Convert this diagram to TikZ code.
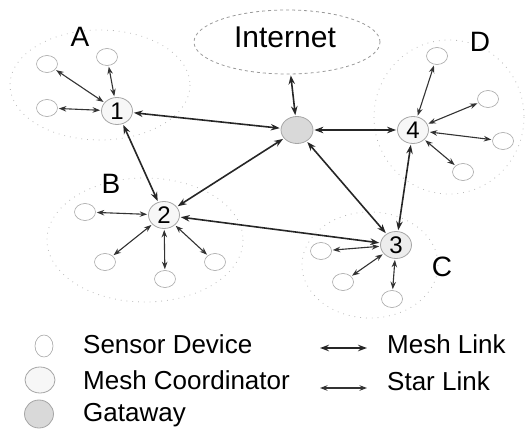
\documentclass[tikz,border=0pt]{standalone}
\usepackage{fontspec}
\setmainfont{Liberation Sans}
\usetikzlibrary{shapes.geometric,arrows.meta}

\tikzset{
  sensor/.style={ellipse, draw=gray!70, line width=0.6pt, fill=white,
    minimum width=21pt, minimum height=17pt, inner sep=0pt},
  coord/.style={ellipse, draw=gray!70, line width=0.8pt, fill=gray!6,
    minimum width=31pt, minimum height=27pt, inner sep=0pt,
    font=\fontsize{24}{24}\selectfont},
  gw/.style={ellipse, draw=gray!70, line width=0.8pt, fill=gray!30,
    minimum width=32pt, minimum height=27pt, inner sep=0pt},
  cloud/.style={ellipse, draw=gray!80, dashed, line width=0.8pt,
    minimum width=186pt, minimum height=64pt, inner sep=0pt},
  region/.style={draw=gray!55, line width=0.8pt, dash pattern=on 0.8pt off 5pt},
  meshlink/.style={{Stealth[length=9pt,width=6.5pt]}-{Stealth[length=9pt,width=6.5pt]},
    line width=1.6pt, draw=black!85, shorten <=1pt, shorten >=1pt},
  starlink/.style={{Stealth[length=7.5pt,width=5.5pt]}-{Stealth[length=7.5pt,width=5.5pt]},
    line width=1.1pt, draw=black!80, shorten <=1pt, shorten >=1pt},
  clabel/.style={anchor=base, inner sep=0pt, font=\fontsize{28}{28}\selectfont},
  legtext/.style={anchor=base west, inner sep=0pt, font=\fontsize{26}{26}\selectfont},
}

\begin{document}
\begin{tikzpicture}[x=1pt, y=-1pt]
\useasboundingbox (0,0) rectangle (530,446);

% cluster regions
\draw[region] (100,85) ellipse [x radius=90, y radius=55];
\draw[region] (145,240) ellipse [x radius=98, y radius=62];
\draw[region] (370,265) ellipse [x radius=68, y radius=53];
\draw[region] (449,117) ellipse [x radius=75, y radius=77];

% internet cloud
\node[cloud] (inet) at (287,42) {};
\node[anchor=base, inner sep=0pt, font=\fontsize{30}{30}\selectfont] (inettxt) at (285,48) {Internet};

% gateway and mesh coordinators
\node[gw] (gw) at (297,130) {};
\node[coord] (c1) at (117,111) {1};
\node[coord] (c2) at (164,215) {2};
\node[coord, fill=gray!14] (c3) at (396,245) {3};
\node[coord] (c4) at (413,130) {4};

% sensor devices
\node[sensor] (a1) at (47,64) {};
\node[sensor] (a2) at (107,57) {};
\node[sensor] (a3) at (47,108) {};
\node[sensor] (b1) at (85,212) {};
\node[sensor] (b2) at (105,262) {};
\node[sensor] (b3) at (165,279) {};
\node[sensor] (b4) at (215,262) {};
\node[sensor] (s1) at (321,251) {};
\node[sensor] (s2) at (343,282) {};
\node[sensor] (s3) at (392,299) {};
\node[sensor] (d1) at (437,56) {};
\node[sensor] (d2) at (488,99) {};
\node[sensor] (d3) at (503,141) {};
\node[sensor] (d4) at (463,172) {};

% cluster labels
\node[clabel] (la) at (80,47) {A};
\node[clabel] (lb) at (111,194) {B};
\node[clabel] (lc) at (442,277) {C};
\node[clabel] (ld) at (480,52) {D};

% mesh links
\draw[meshlink] (inet) -- (gw);
\draw[meshlink] (c1) -- (gw);
\draw[meshlink] (c1) -- (c2);
\draw[meshlink] (gw) -- (c2);
\draw[meshlink] (gw) -- (c4);
\draw[meshlink] (gw) -- (c3);
\draw[meshlink] (c2) -- (c3);
\draw[meshlink] (c4) -- (c3);

% star links
\foreach \s in {a1,a2,a3} \draw[starlink] (\s) -- (c1);
\foreach \s in {b1,b2,b3,b4} \draw[starlink] (\s) -- (c2);
\foreach \s in {s1,s2,s3} \draw[starlink] (\s) -- (c3);
\foreach \s in {d1,d2,d3,d4} \draw[starlink] (\s) -- (c4);

% legend
\node[sensor, minimum width=18pt, minimum height=22pt] (lsensor) at (44,346) {};
\node[coord, minimum width=30pt, minimum height=26pt] (lcoord) at (40,380) {};
\node[gw, minimum width=29pt, minimum height=28pt] (lgw) at (39,414) {};
\node[legtext] (tsensor) at (83,353) {Sensor Device};
\node[legtext] (tcoord) at (83,389) {Mesh Coordinator};
\node[legtext] (tgw) at (83,421) {Gataway};

\coordinate (m1) at (320,348);
\coordinate (m2) at (367,348);
\coordinate (k1) at (320,388);
\coordinate (k2) at (367,388);
\draw[meshlink, line width=1.4pt, shorten <=0pt, shorten >=0pt] (m1) -- (m2);
\draw[starlink, shorten <=0pt, shorten >=0pt] (k1) -- (k2);
\node[legtext] (tmesh) at (387,353) {Mesh Link};
\node[legtext] (tstar) at (387,390) {Star Link};
\end{tikzpicture}
\end{document}
